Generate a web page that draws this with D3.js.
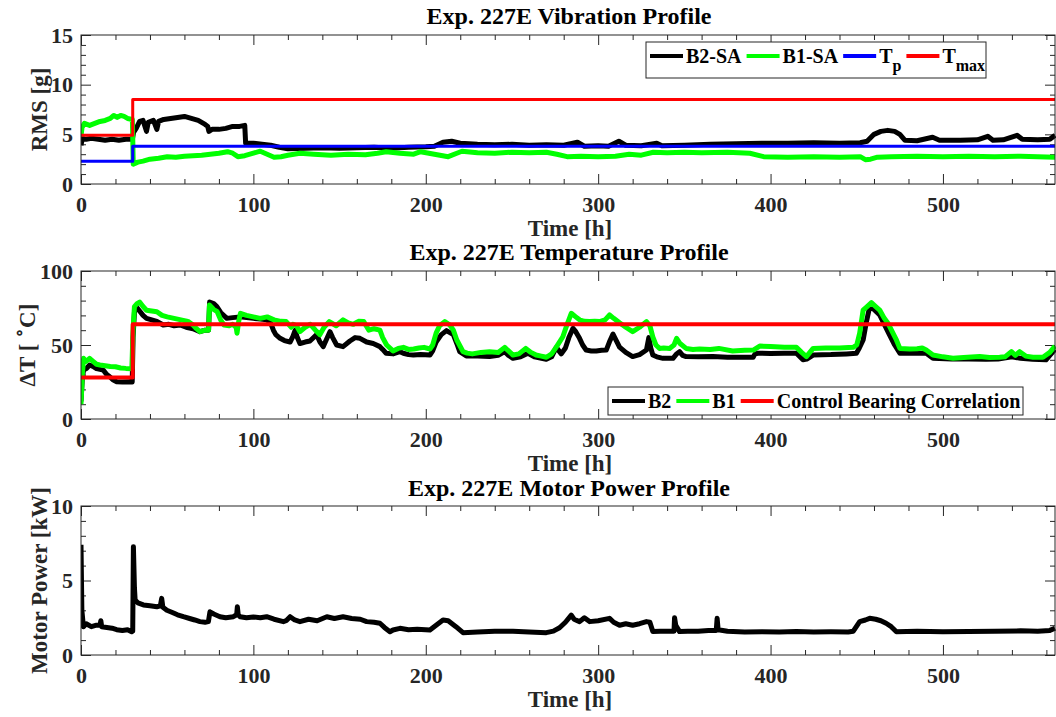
<!DOCTYPE html>
<html>
<head>
<meta charset="utf-8">
<script src="https://cdn.jsdelivr.net/npm/d3@7"></script>
<style>
  body { margin: 0; background: #fff; }
  svg { display: block; font-family: "Liberation Serif", "Times New Roman", serif; font-weight: bold; }
</style>
</head>
<body>
<svg id="chart" width="1056" height="717"></svg>
<script>
// ---- Data: Exp. 227E ----
const timeMax = 565;
const xMajorTicks = [0, 100, 200, 300, 400, 500];

// Vibration RMS [g], pairs of [time h, value]
const b2SA = [[0,3.9],[0.8,4.6],[3,4.5],[6,4.6],[10,4.5],[14,4.4],[18,4.5],[22,4.4],[26,4.5],[29.8,4.5],[30.5,5.2],[32,5.6],[34,6.3],[36,6.4],[38,5.3],[39,6.2],[42,6.4],[44,5.5],[45,6.3],[48,6.5],[52,6.6],[56,6.7],[60,6.8],[64,6.6],[68,6.4],[72,6.0],[73.5,5.8],[74.2,5.3],[76,5.5],[80,5.5],[84,5.6],[88,5.8],[92,5.8],[95,5.9],[95.5,4.1],[100,4.1],[105,4.0],[110,3.9],[115,3.7],[120,3.55],[130,3.6],[140,3.65],[150,3.6],[160,3.65],[170,3.7],[180,3.6],[190,3.7],[200,3.75],[205,3.8],[210,4.2],[215,4.3],[220,4.1],[230,4.0],[240,3.95],[250,4.0],[260,3.9],[270,3.95],[280,3.9],[288,4.2],[292,3.8],[300,3.85],[306,3.8],[312,4.3],[316,3.9],[325,3.85],[334,4.1],[337,3.85],[350,3.9],[365,4.0],[380,4.05],[395,4.1],[410,4.1],[425,4.15],[440,4.1],[452,4.15],[456,4.3],[460,5.0],[464,5.3],[468,5.4],[472,5.3],[475,5.0],[478,4.4],[485,4.35],[494,4.7],[498,4.4],[510,4.4],[520,4.45],[526,4.8],[529,4.4],[535,4.45],[543,4.9],[546,4.5],[555,4.45],[562,4.5],[565,4.9]];
const b1SA = [[0,4.8],[0.6,5.7],[2,6.1],[5,5.9],[8,6.1],[11,6.3],[14,6.4],[17,6.6],[19,6.9],[21,6.7],[23,6.9],[25,6.8],[27,6.6],[29.8,6.5],[30.3,2.0],[33,2.2],[36,2.3],[40,2.5],[45,2.6],[50,2.75],[55,2.7],[60,2.8],[65,2.85],[70,2.9],[75,3.0],[80,3.1],[85,3.25],[88,3.1],[91,2.75],[95,2.85],[100,3.1],[104,3.3],[108,3.0],[112,2.7],[116,2.75],[120,2.9],[127,3.1],[135,3.0],[145,2.9],[155,3.0],[165,2.95],[172,3.1],[177,3.25],[185,3.1],[193,3.0],[197,3.25],[205,3.0],[213,2.75],[218,3.1],[221,3.3],[230,3.15],[240,3.1],[250,3.2],[260,3.15],[270,3.2],[276,3.0],[282,2.75],[290,2.8],[300,2.75],[310,2.8],[318,3.0],[325,2.9],[332,3.2],[340,3.15],[350,3.2],[360,3.15],[375,3.2],[388,3.1],[396,2.75],[410,2.7],[425,2.75],[440,2.7],[452,2.75],[455,2.45],[458,2.5],[462,2.7],[470,2.75],[485,2.8],[500,2.75],[515,2.8],[530,2.75],[545,2.8],[565,2.7]];

// Threshold steps (switch at the load change)
const limitTimes = [0, 30, timeMax];
const tpValues = [2.3, 3.8];
const tmaxValues = [4.9, 8.5];

// Temperature rise ΔT [°C]
const b2Temp = [[0,12],[0.8,28],[1.5,33],[3,34],[5,36.5],[7,35.5],[9,34],[11,33.5],[12.9,33],[15,30],[16.7,28.6],[18.5,26.5],[20.7,25.2],[24,25],[28,25.2],[29.7,25],[30.2,55],[31,72],[32,76],[34,73],[36,70],[38,68],[41,67],[44,66],[47.7,63.5],[51,64],[54,63],[57.5,63.5],[61,62],[65,61],[69,59],[72,60],[74,60],[74.6,79],[77,78],[78.8,76],[81,72],[84.6,68],[88,68.5],[92.3,69],[96,68.5],[100,68],[104,67.5],[107.7,67],[110,65],[111.6,60],[113,57],[115.5,54.5],[118,53],[121.3,52],[123,56],[124.2,60],[125.5,55],[127,51],[130,52],[132.8,52.7],[136.7,57],[138.6,52],[140.5,48.9],[142.5,54],[144.4,59],[146,55],[148.3,50],[152,48.9],[156,52.7],[159,55],[161.8,54.5],[165.7,52],[169.5,51],[173.4,48.9],[175,47],[177,44.4],[181,44],[185,45.5],[187,44.4],[190,43.5],[192.8,43.2],[197,43.5],[202.4,43.2],[204,46],[206,52],[209,57],[212,59.7],[216,57],[218,51],[219.7,45.5],[223.5,42.6],[230,42.5],[237,42.2],[242,43],[245.8,45.5],[248,43],[250.6,41],[255,42],[259.3,44.4],[263,42],[269.9,40.3],[273,42],[275.7,48.4],[278.6,44],[281,48],[283,55],[285.4,61.3],[287,59],[289.2,54.5],[291,50],[293,46.6],[296,46],[298.9,46],[302,46.5],[304.7,46.6],[306.5,52],[308.6,57.4],[310.5,53],[312.4,48.6],[316,45],[320,42.2],[324,43.5],[328,46.6],[329.4,55],[330.5,48],[331.7,43.2],[334,42],[337.6,41],[343.4,41],[345.5,44],[347.2,45.5],[349,43],[351,42.2],[358,42],[366.5,42.2],[375,41.7],[383,41.7],[389.9,41.7],[391,44],[392.8,44.4],[400,44.3],[408,44.4],[415,44.4],[418.8,40],[421,40.5],[424.7,43.2],[435,43.5],[444,44],[449.8,44.4],[451.5,48],[453.7,53.4],[455.5,65],[457.5,75.9],[460,74],[463.3,70.3],[466,64],[469,56.8],[472,50],[475,44.4],[482,44.4],[490.3,44.4],[494.2,41],[505,40.5],[515,40.5],[525,40.3],[532,40.5],[540,42],[545,41],[552,40.3],[559.8,40],[562,43],[565,47]];
const b1Temp = [[0,10],[0.8,30],[1.5,41],[3,39],[5,41],[7,39],[9,37],[11,36.5],[14,36],[17,35.5],[20,35.3],[23,34.5],[26,34.2],[29.5,34],[30.2,60],[31,76],[32.5,78],[34,79],[36,76],[38,73.5],[41,73],[44,72.5],[47,70],[50,69],[54,68],[58,67],[62,66],[65,63.5],[67,61],[69,59],[72,60],[74,60],[74.5,77],[77,74],[79,72.5],[81,67],[83,63.5],[86,63],[88,64],[90,62],[90.5,58],[91.5,66],[92.5,71.4],[96,70],[100,69],[104,68],[108,69],[112,67],[116,66],[119,65.8],[122,62],[123,64],[125,63],[127,59],[130,62],[133,64],[136,60],[138.6,57],[141,62],[144,65.8],[148,63],[152,67],[155,65],[158,64],[161,66],[164,65.8],[167,60],[170,61],[173.4,60],[175,55],[177.3,50],[181,46],[184,47.7],[187,48.4],[190,47],[193,47.3],[196,48],[199,48.4],[202.4,47.3],[204,50],[206,58],[208,63],[211,65.8],[214,63.5],[216,60],[218,53.4],[220,49],[221.6,45.5],[224,44.5],[227,44],[232,45],[237,45.5],[242,45],[245.8,48.4],[248,46],[250.6,43.2],[254,44],[258,47.7],[261,45],[264,43.2],[267,42.5],[270,41.7],[273,44],[275.7,48.6],[279.5,55.6],[282,64],[284.4,71.4],[287,69],[289.2,67],[292,66],[295,65.8],[298,66],[300.8,65.8],[304,67],[306.6,70.3],[309,68],[312.4,65],[316,62],[320,59],[324,62],[328,65.8],[330,63],[331.7,55.5],[333.5,50],[335.6,47.7],[338,48],[341.4,47.7],[344,50],[345.5,54.5],[347.5,51],[351,47.7],[355,47],[358.8,47.3],[365,47],[370,47.7],[378,46],[385,46.5],[390,46.6],[393.7,49.3],[400,49],[408,48.5],[415,48.4],[418,45],[420.8,42.2],[424.7,47.7],[432,48],[440,48],[447.9,48.4],[450,50],[451.7,58],[453.7,73.6],[456,76],[458.5,78.6],[461,76],[463.3,73.6],[466,68],[468,64.9],[471,58],[473,53.4],[475,47.7],[480.7,47.3],[485,47.5],[488,48],[490.3,46.6],[494.2,43.2],[500,42],[505.8,41],[512,41.5],[521.3,42.2],[527,41.5],[532.9,41.7],[536,42],[539.7,45.5],[542,43],[544.5,45.5],[548,42.5],[552.2,41.7],[558,41.7],[562,45],[565,49.3]];
const controlValues = [28, 64];

// Motor power [kW]
const motorPower = [[0,7.4],[0.5,3.0],[1.4,1.9],[3,2.1],[6,1.9],[9,2.0],[11,2.0],[11.5,2.3],[12,1.9],[15,1.85],[18,1.8],[20.7,1.7],[24,1.65],[27,1.7],[29.4,1.56],[30,1.6],[30.4,7.27],[31,4.5],[31.4,3.7],[33,3.5],[36.2,3.36],[40,3.3],[44,3.24],[46,3.3],[46.8,3.8],[47.5,3.2],[49.8,3.0],[53,2.85],[56,2.7],[59.4,2.57],[63,2.45],[66,2.35],[69,2.24],[72,2.2],[73.9,2.24],[74.8,2.9],[77,2.75],[80.6,2.57],[84,2.5],[88.4,2.57],[90.3,2.7],[90.7,3.24],[91.2,2.7],[92.3,2.57],[96,2.5],[100,2.55],[104,2.5],[107.7,2.57],[112,2.4],[117.4,2.24],[119,2.3],[121.3,2.57],[124,2.35],[127,2.24],[132,2.4],[137,2.3],[142.6,2.57],[147,2.45],[152,2.57],[157,2.45],[162,2.4],[165.7,2.24],[170,2.2],[173.4,2.13],[176,1.85],[179.2,1.56],[181,1.68],[185,1.79],[190,1.7],[195,1.72],[202.4,1.68],[206,2.0],[210,2.35],[213,2.3],[217.5,1.9],[221.6,1.5],[230,1.55],[240,1.6],[250.6,1.6],[260,1.55],[269.9,1.5],[274,1.6],[277.6,1.83],[281,2.2],[284.4,2.68],[286,2.4],[289.2,2.24],[292,2.5],[295,2.24],[300,2.3],[306.6,2.46],[309,2.2],[312.4,2.0],[316,2.1],[320,2.0],[324,2.1],[328,2.24],[330,2.2],[331.7,1.57],[336,1.6],[340,1.6],[344,1.6],[344.3,2.5],[345,2.0],[347.2,1.57],[352,1.6],[358,1.6],[364,1.65],[368.5,1.65],[369,2.46],[369.6,1.7],[375,1.6],[385,1.55],[395,1.56],[405,1.55],[415,1.57],[425,1.55],[435,1.56],[445,1.55],[448,1.6],[451.7,2.24],[455,2.35],[457.5,2.46],[461,2.4],[464,2.3],[467,2.13],[470,1.9],[473,1.56],[485,1.6],[500,1.56],[515,1.58],[530,1.6],[545,1.62],[555,1.6],[562,1.65],[565,1.8]];

// ---- Drawing ----
const svg = d3.select("#chart");
const axisColor = "#262626";
const x = d3.scaleLinear().domain([0, timeMax]).range([81, 1055]);
const xMinorTicks = d3.range(0, timeMax + 1, 20).filter(v => v % 100 !== 0);

function stepPoints(values) {
  return [[limitTimes[0], values[0]], [limitTimes[1], values[1]], [limitTimes[2], values[1]]];
}

function styleAxis(g) {
  g.select(".domain").remove();
  g.attr("font-family", null).attr("font-size", null);
  g.selectAll("line").attr("stroke", axisColor);
  g.selectAll("text").attr("fill", axisColor).style("font-size", "22px");
}

function panel(cfg) {
  const y = d3.scaleLinear().domain(cfg.yDomain).range([cfg.bottom, cfg.top]);
  const g = svg.append("g");
  const yMinor = d3.range(cfg.yDomain[0], cfg.yDomain[1] + 1e-9, cfg.yMinorStep)
    .filter(v => !cfg.yMajor.includes(v));

  // box background
  g.append("rect").attr("x", x(0)).attr("y", cfg.top)
    .attr("width", x(timeMax) - x(0)).attr("height", cfg.bottom - cfg.top)
    .attr("fill", "#fff");

  // ticks on all four sides, pointing inward
  g.append("g").attr("transform", `translate(0,${cfg.bottom})`)
    .call(d3.axisBottom(x).tickValues(xMinorTicks).tickSize(-5).tickFormat("")).call(styleAxis);
  g.append("g").attr("transform", `translate(0,${cfg.bottom})`)
    .call(d3.axisBottom(x).tickValues(xMajorTicks).tickSize(-10).tickPadding(12).tickFormat(d3.format("d"))).call(styleAxis);
  g.append("g").attr("transform", `translate(0,${cfg.top})`)
    .call(d3.axisTop(x).tickValues(xMinorTicks).tickSize(-5).tickFormat("")).call(styleAxis);
  g.append("g").attr("transform", `translate(0,${cfg.top})`)
    .call(d3.axisTop(x).tickValues(xMajorTicks).tickSize(-10).tickFormat("")).call(styleAxis);
  g.append("g").attr("transform", `translate(${x(0)},0)`)
    .call(d3.axisLeft(y).tickValues(yMinor).tickSize(-5).tickFormat("")).call(styleAxis);
  g.append("g").attr("transform", `translate(${x(0)},0)`)
    .call(d3.axisLeft(y).tickValues(cfg.yMajor).tickSize(-10).tickPadding(8).tickFormat(d3.format("d"))).call(styleAxis);
  g.append("g").attr("transform", `translate(${x(timeMax)},0)`)
    .call(d3.axisRight(y).tickValues(yMinor).tickSize(-5).tickFormat("")).call(styleAxis);
  g.append("g").attr("transform", `translate(${x(timeMax)},0)`)
    .call(d3.axisRight(y).tickValues(cfg.yMajor).tickSize(-10).tickFormat("")).call(styleAxis);

  // clip region for the data
  const clipId = "clip-" + cfg.id;
  svg.append("clipPath").attr("id", clipId).append("rect")
    .attr("x", x(0)).attr("y", cfg.top - 3)
    .attr("width", x(timeMax) - x(0) + 2).attr("height", cfg.bottom - cfg.top + 3);

  const lines = g.append("g").attr("clip-path", `url(#${clipId})`);
  cfg.series.forEach(s => {
    const gen = d3.line().x(d => x(d[0])).y(d => y(d[1]));
    if (s.step) gen.curve(d3.curveStepAfter);
    lines.append("path").datum(s.data)
      .attr("d", gen)
      .attr("fill", "none")
      .attr("stroke", s.color)
      .attr("stroke-width", s.width)
      .attr("stroke-linejoin", "round")
      .attr("stroke-linecap", "butt");
  });

  // axes box
  g.append("rect").attr("x", x(0)).attr("y", cfg.top)
    .attr("width", x(timeMax) - x(0)).attr("height", cfg.bottom - cfg.top)
    .attr("fill", "none").attr("stroke", axisColor).attr("stroke-width", 1);

  // title and axis labels
  svg.append("text").attr("x", 569).attr("y", cfg.titleY)
    .attr("text-anchor", "middle").attr("fill", "#000").style("font-size", "24px")
    .text(cfg.title);
  svg.append("text").attr("x", 570).attr("y", cfg.bottom + 52)
    .attr("text-anchor", "middle").attr("fill", axisColor).style("font-size", "23px")
    .text("Time [h]");
  const yl = svg.append("text")
    .attr("transform", `translate(${cfg.ylabelX},${(cfg.top + cfg.bottom) / 2}) rotate(-90)`)
    .attr("text-anchor", "middle").attr("fill", axisColor).style("font-size", "23px");
  cfg.ylabel(yl);

  if (cfg.legend) drawLegend(cfg.legend);
}

function drawLegend(lg) {
  const g = svg.append("g");
  g.append("rect").attr("x", lg.x).attr("y", lg.y)
    .attr("width", lg.w).attr("height", lg.h)
    .attr("fill", "#fff").attr("stroke", axisColor).attr("stroke-width", 1);
  let cx = lg.x + 4;
  const cy = lg.y + lg.lineDy;
  lg.items.forEach(it => {
    g.append("line").attr("x1", cx).attr("x2", cx + 33).attr("y1", cy).attr("y2", cy)
      .attr("stroke", it.color).attr("stroke-width", 4);
    cx += 36;
    const t = g.append("text").attr("x", cx).attr("y", cy + 7)
      .attr("fill", "#000").style("font-size", "20px");
    t.append("tspan").text(it.label);
    if (it.sub) {
      t.append("tspan").attr("dy", 8).style("font-size", "16px").text(it.sub);
    }
    cx += t.node().getComputedTextLength() + 5;
  });
}

panel({
  id: "vib", top: 35, bottom: 184, yDomain: [0, 15], yMajor: [0, 5, 10, 15], yMinorStep: 1,
  title: "Exp. 227E Vibration Profile", titleY: 24, ylabelX: 47,
  ylabel: t => t.text("RMS [g]"),
  series: [
    { data: b2SA, color: "#000", width: 5 },
    { data: b1SA, color: "#00ff00", width: 5 },
    { data: stepPoints(tpValues), color: "#0000ff", width: 3, step: true },
    { data: stepPoints(tmaxValues), color: "#ff0000", width: 3, step: true }
  ],
  legend: {
    x: 646, y: 42, w: 340, h: 36, lineDy: 14,
    items: [
      { label: "B2-SA", color: "#000" },
      { label: "B1-SA", color: "#00ff00" },
      { label: "T", sub: "p", color: "#0000ff" },
      { label: "T", sub: "max", color: "#ff0000" }
    ]
  }
});

panel({
  id: "temp", top: 271, bottom: 419, yDomain: [0, 100], yMajor: [0, 50, 100], yMinorStep: 10,
  title: "Exp. 227E Temperature Profile", titleY: 260, ylabelX: 35,
  ylabel: t => {
    t.append("tspan").text("ΔT [ ");
    t.append("tspan").attr("dy", -10).style("font-size", "16px").text("∘");
    t.append("tspan").attr("dy", 10).text("C]");
  },
  series: [
    { data: b2Temp, color: "#000", width: 5 },
    { data: b1Temp, color: "#00ff00", width: 5 },
    { data: stepPoints(controlValues), color: "#ff0000", width: 4, step: true }
  ],
  legend: {
    x: 608, y: 387, w: 415, h: 28, lineDy: 14,
    items: [
      { label: "B2", color: "#000" },
      { label: "B1", color: "#00ff00" },
      { label: "Control Bearing Correlation", color: "#ff0000" }
    ]
  }
});

panel({
  id: "power", top: 506, bottom: 655, yDomain: [0, 10], yMajor: [0, 5, 10], yMinorStep: 1,
  title: "Exp. 227E Motor Power Profile", titleY: 496, ylabelX: 47,
  ylabel: t => t.text("Motor Power [kW]"),
  series: [
    { data: motorPower, color: "#000", width: 5 }
  ]
});
</script>
</body>
</html>
